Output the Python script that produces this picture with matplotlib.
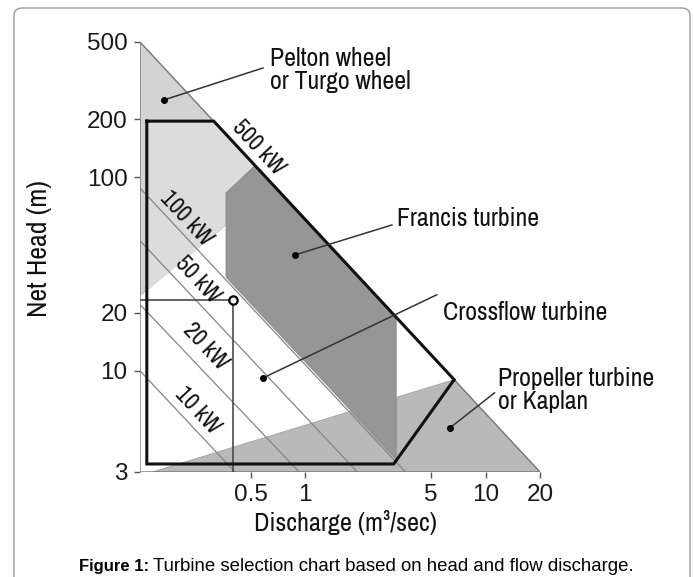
import matplotlib
matplotlib.use('Agg')
from matplotlib import pyplot as plt
from matplotlib.patches import Polygon, FancyBboxPatch
from matplotlib.transforms import IdentityTransform

# axis ticks
y_ticks = [3, 10, 20, 100, 200, 500]
x_ticks = [0.5, 1, 5, 10, 20]
x_ticklabels = ['0.5', '1', '5', '10', '20']

# chart region (discharge Q, head H)
triangle_q = [0.1223, 0.1223, 20]
triangle_h = [500, 3, 3]

pelton_q = [0.1223, 0.1223, 0.67]
pelton_h = [500, 24.5, 90]
pelton_box_q = [0.1334, 0.313, 0.67, 0.1334]
pelton_box_h = [195, 195, 90, 26]

kaplan_q = [0.143, 6.7, 20]
kaplan_h = [3, 9, 3]

francis_q = [0.366, 0.53, 3.2, 3.2, 0.366]
francis_h = [83, 115, 18.7, 3.5, 30.5]

# selection envelope (thick outline)
box_q = [0.1334, 0.313, 6.7, 3.1, 0.1334, 0.1334]
box_h = [195, 195, 9, 3.3, 3.3, 195]

# constant power lines: start head at left edge, end discharge at bottom
power_names = ['10 kW', '20 kW', '50 kW', '100 kW']
power_start_h = [10, 22, 47, 88]
power_end_q = [0.41, 0.93, 1.95, 3.6]

# label positions for power lines
power_label_names = ['10 kW', '20 kW', '50 kW', '100 kW', '500 kW']
power_label_q = [0.255, 0.28, 0.253, 0.22, 0.55]
power_label_h = [6.2, 13.4, 29.5, 60.9, 142]

# example operating point
point_q = 0.40
point_h = 23.2

# turbine callouts: text, dot, line end
turbine_names = ['Pelton wheel\nor Turgo wheel', 'Francis turbine',
                 'Crossflow turbine', 'Propeller turbine\nor Kaplan']
dot_q = [0.166, 0.88, 0.586, 6.33]
dot_h = [251, 39.7, 9.18, 5.06]
end_q = [0.586, 3.03, 5.36, 11.2]
end_h = [367, 56.7, 24.7, 7.69]
text_q = [0.64, 3.22, 5.79, 11.65]
text_h = [359, 60.9, 20.1, 7.96]

NARROW = ['Archivo Narrow', 'Liberation Sans', 'DejaVu Sans']
REG = ['Liberation Sans', 'DejaVu Sans']


def main():
    fig = plt.figure(figsize=(6.94, 5.77), dpi=100)
    ax = fig.add_axes([0.20173, 0.18198, 0.57637, 0.74523])
    ax.set_xscale('log')
    ax.set_yscale('log')
    ax.set_xlim(0.1223, 20)
    ax.set_ylim(3, 500)

    # fills
    ax.add_patch(Polygon(list(zip(triangle_q, triangle_h)), closed=True,
                         facecolor='white', edgecolor='none', zorder=1))
    ax.add_patch(Polygon(list(zip(pelton_q, pelton_h)), closed=True,
                         facecolor='#d3d3d3', edgecolor='#a8a8a8', lw=0.6, zorder=2))
    ax.add_patch(Polygon(list(zip(pelton_box_q, pelton_box_h)), closed=True,
                         facecolor='#dcdcdc', edgecolor='none', zorder=2.1))
    ax.add_patch(Polygon(list(zip(kaplan_q, kaplan_h)), closed=True,
                         facecolor='#b9b9b9', edgecolor='#a0a0a0', lw=0.6, zorder=2))

    # power lines
    for h0, q1 in zip(power_start_h, power_end_q):
        ax.plot([triangle_q[0], q1], [h0, triangle_h[1]], color='#858585', lw=0.9, zorder=3)

    ax.add_patch(Polygon(list(zip(francis_q, francis_h)), closed=True,
                         facecolor='#969696', edgecolor='#888888', lw=0.6, zorder=4))

    # triangle outline
    ax.add_patch(Polygon(list(zip(triangle_q, triangle_h)), closed=True,
                         facecolor='none', edgecolor='#7a7a7a', lw=1.0, zorder=5))

    # example point
    ax.plot([triangle_q[0], point_q], [point_h, point_h], color='#4a4a4a', lw=1.2, zorder=5)
    ax.plot([point_q, point_q], [point_h, triangle_h[1]], color='#4a4a4a', lw=1.2, zorder=5)
    ax.plot([point_q], [point_h], marker='o', ms=6, mfc='white', mec='black', mew=1.6, zorder=7)

    # selection envelope
    ax.plot(box_q, box_h, color='#111111', lw=2.2, zorder=6, solid_joinstyle='miter')

    for name, q, h in zip(power_label_names, power_label_q, power_label_h):
        ax.text(q, h, name, rotation=-47, ha='center', va='center',
                rotation_mode='anchor', fontsize=17, family=NARROW, zorder=8,
                color='#111111')

    # callouts
    for name, dq, dh, eq, eh, tq, th in zip(turbine_names, dot_q, dot_h, end_q, end_h, text_q, text_h):
        ax.plot([dq, eq], [dh, eh], color='#333333', lw=1.1, zorder=8, clip_on=False)
        ax.plot([dq], [dh], 'o', color='black', ms=4, zorder=9, clip_on=False)
        ax.text(tq, th, name, ha='left', va='center', fontsize=18.6, family=NARROW,
                linespacing=0.97, zorder=9, color='#111111')

    # axes styling
    for s in ax.spines.values():
        s.set_visible(False)
    ax.set_yticks(y_ticks)
    ax.set_yticklabels([str(v) for v in y_ticks])
    ax.set_xticks(x_ticks)
    ax.set_xticklabels(x_ticklabels)
    ax.minorticks_off()
    ax.tick_params(axis='both', which='major', length=4, width=1.0, color='#555555',
                   labelsize=17.5, pad=5)
    for lab in ax.get_xticklabels() + ax.get_yticklabels():
        lab.set_family(REG)
        lab.set_color('#1a1a1a')
    ax.patch.set_alpha(0)

    fig.text(0.0576, 0.5685, 'Net Head (m)', rotation=90, ha='center', va='center',
             fontsize=20, family=NARROW, color='#111111')
    fig.text(0.4978, 0.0936, 'Discharge (m³/sec)', ha='center', va='center',
             fontsize=18.8, family=NARROW, color='#111111')

    # caption
    fig.text(149 / 694, 0.019, 'Figure 1:', ha='right', va='center', fontsize=12,
             family=REG, fontweight='bold')
    fig.text(153 / 694, 0.019, 'Turbine selection chart based on head and flow discharge.',
             ha='left', va='center', fontsize=13.45, family=REG)

    # rounded border
    border = FancyBboxPatch((14, -30), 676, 599, boxstyle='round,pad=0,rounding_size=8',
                            transform=IdentityTransform(), facecolor='none',
                            edgecolor='#9a9a9a', lw=1.0)
    fig.add_artist(border)

    fig.savefig('out.png', dpi=100)


if __name__ == '__main__':
    main()
